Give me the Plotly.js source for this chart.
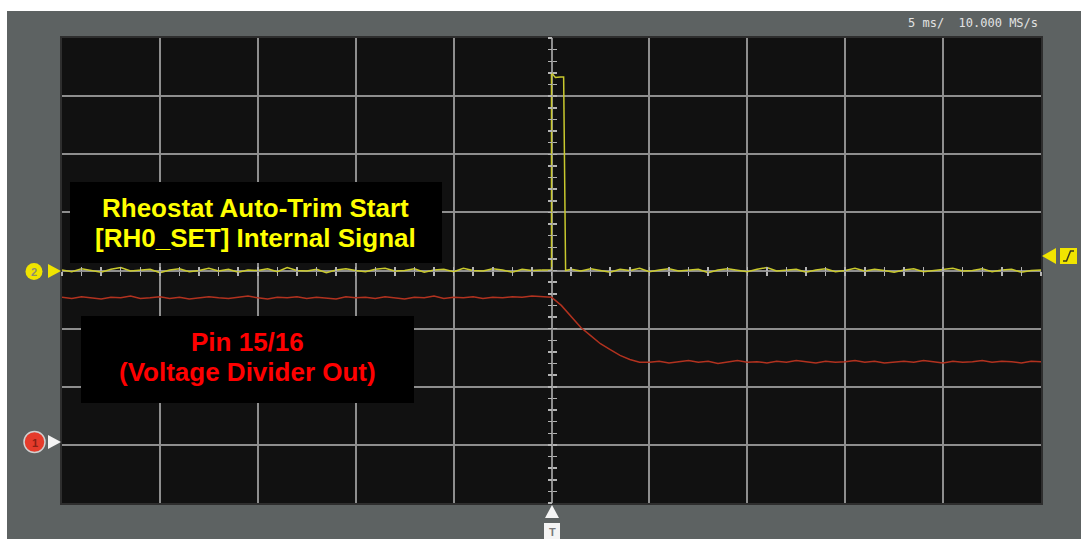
<!DOCTYPE html>
<html><head><meta charset="utf-8">
<script src="https://cdn.plot.ly/plotly-3.0.1.min.js"></script>
<style>
html,body{margin:0;padding:0;background:#ffffff;overflow:hidden}
#chart{position:absolute;left:7px;top:11px;width:1074px;height:528px}
</style>
</head><body><div id="chart"></div>
<script>
// ---- data (time in ms, amplitude in screen divisions) ----
const timeStart = -25;     // ms, left edge of record
const sampleStep = 0.5;    // ms between samples
const timebaseLabel = "5 ms/  10.000 MS/s";
const ch2Label = ["Rheostat Auto-Trim Start", "[RH0_SET] Internal Signal"];
const ch1Label = ["Pin 15/16", "(Voltage Divider Out)"];

// CH2 (yellow) before trigger: t = -25 ... -0.5 ms
const yellowPre = [0.01,-0.02,0.03,0.00,-0.03,0.02,0.05,-0.01,0.00,0.02,
  -0.04,0.01,0.03,-0.02,0.00,0.04,-0.01,0.02,-0.03,0.01,
  0.00,0.03,-0.02,0.05,0.00,-0.01,0.02,-0.04,0.01,0.03,
  0.00,-0.02,0.02,0.04,-0.01,0.00,0.03,-0.03,0.01,0.02,
  -0.02,0.04,0.00,-0.01,0.03,0.01,-0.03,0.02,0.00,0.01];
// CH2 pulse
const pulseTime = [-0.5, 0, 0, 0.08, 0.2, 0.45, 0.62, 0.72, 1.0];
const pulseValue = [0.01, 0.01, 3.40, 3.36, 3.32, 3.33, 3.33, 0.00, 0.02];
// CH2 after pulse: t = 1.0 ... 25 ms
const yellowPost = [0.02,-0.01,0.03,0.00,-0.03,0.02,0.00,0.04,-0.02,0.01,
  0.03,-0.01,0.00,0.02,-0.04,0.01,0.03,0.00,-0.02,0.02,
  0.05,-0.01,0.00,0.02,-0.03,0.01,0.03,-0.02,0.00,0.04,
  -0.01,0.02,0.00,-0.03,0.01,0.03,-0.02,0.00,0.02,0.04,
  -0.01,0.00,0.03,-0.02,0.01,0.02,-0.03,0.00,0.01];
const yellowPostStart = 1.0;

// CH1 (red): t = -25 ... -0.5 ms
const redPre = [-0.46,-0.48,-0.45,-0.47,-0.49,-0.46,-0.47,-0.44,-0.48,-0.47,
  -0.45,-0.48,-0.46,-0.49,-0.47,-0.45,-0.47,-0.48,-0.46,-0.44,
  -0.47,-0.49,-0.46,-0.47,-0.45,-0.48,-0.46,-0.47,-0.49,-0.45,
  -0.47,-0.46,-0.48,-0.45,-0.47,-0.49,-0.46,-0.47,-0.44,-0.48,
  -0.46,-0.47,-0.45,-0.48,-0.46,-0.47,-0.45,-0.46,-0.44,-0.45];
// t = 0 ... 4.5 ms
const redDecay = [-0.46,-0.60,-0.80,-0.98,-1.12,-1.26,-1.36,-1.46,-1.53,-1.58];
// t = 5 ... 25 ms
const redPost = [-1.58,-1.56,-1.59,-1.57,-1.55,-1.58,-1.56,-1.60,-1.57,-1.55,
  -1.58,-1.57,-1.59,-1.56,-1.58,-1.55,-1.57,-1.59,-1.56,-1.58,
  -1.57,-1.55,-1.58,-1.56,-1.59,-1.57,-1.56,-1.58,-1.55,-1.57,
  -1.59,-1.56,-1.58,-1.57,-1.55,-1.58,-1.56,-1.57,-1.59,-1.56,-1.57];
const redValues = redPre.concat(redDecay, redPost);

// ---- styling ----
const YEL = '#c9c92e', RED = '#b2321f', GRID = '#8e8e8e';
const PL = 62, PT = 38, PW = 979, PH = 465;
function px(x){ return (x - PL) / PW; }
function py(y){ return (PT + PH - y) / PH; }

const traces = [
  {type:'scatter', mode:'lines', x0:timeStart, dx:sampleStep, y:redValues,
   line:{color:RED, width:1.5}, hoverinfo:'skip', showlegend:false},
  {type:'scatter', mode:'lines', x0:timeStart, dx:sampleStep, y:yellowPre,
   line:{color:YEL, width:1.5}, hoverinfo:'skip', showlegend:false},
  {type:'scatter', mode:'lines', x:pulseTime, y:pulseValue,
   line:{color:YEL, width:1.5}, hoverinfo:'skip', showlegend:false},
  {type:'scatter', mode:'lines', x0:yellowPostStart, dx:sampleStep, y:yellowPost,
   line:{color:YEL, width:1.5}, hoverinfo:'skip', showlegend:false},
  // empty traces so the centre-axis tick rulers get drawn
  {type:'scatter', mode:'lines', x:[], y:[], xaxis:'x2', yaxis:'y', showlegend:false, hoverinfo:'skip'},
  {type:'scatter', mode:'lines', x:[], y:[], xaxis:'x3', yaxis:'y', showlegend:false, hoverinfo:'skip'},
  {type:'scatter', mode:'lines', x:[], y:[], xaxis:'x', yaxis:'y2', showlegend:false, hoverinfo:'skip'},
  {type:'scatter', mode:'lines', x:[], y:[], xaxis:'x', yaxis:'y3', showlegend:false, hoverinfo:'skip'}
];

const tickAxis = (extra) => Object.assign({
  showgrid:false, zeroline:false, showticklabels:false, showline:false,
  tickcolor:'#b4b4b4', tickwidth:1.5, ticklen:4, fixedrange:true
}, extra);

function tri(points, color){
  const p = points.map((q,i)=> (i?'L':'M') + px(q[0]) + ',' + py(q[1])).join(' ') + ' Z';
  return {type:'path', xref:'paper', yref:'paper', path:p, fillcolor:color, line:{width:0}};
}
function box(x0,x1,y0,y1,fill,line){
  return {type:'rect', xref:'paper', yref:'paper', x0:px(x0), x1:px(x1), y0:py(y1), y1:py(y0),
    fillcolor:fill, line: line || {width:0}, layer:'above'};
}
function circ(cx,cy,r,fill,line){
  return {type:'circle', xref:'paper', yref:'paper', x0:px(cx-r), x1:px(cx+r), y0:py(cy+r), y1:py(cy-r),
    fillcolor:fill, line: line || {width:0}};
}
function txt(t,x,y,size,color,opts){
  return Object.assign({xref:'paper', yref:'paper', x:px(x), y:py(y), text:t, showarrow:false,
    font:{family:'Liberation Sans, Arial, sans-serif', size:size, color:color}, xanchor:'center', yanchor:'middle'}, opts||{});
}
const boldFont = (size,color) => ({family:'Liberation Sans, Arial, sans-serif', size:size, color:color, weight:'bold'});

const shapes = [
  box(70,442,182,263,'#000000'),
  box(81,414,316,403,'#000000'),
  circ(34,271.5,8.5,'#f0e400'),
  tri([[48,264],[61,271],[48,278]], '#f0e400'),
  circ(34.5,442,10.5,'#e53b2b',{color:'#d0d0d0', width:1.5}),
  tri([[48,435],[61,442],[48,449]], '#f4f4f4'),
  tri([[1042,256],[1056,248],[1056,264]], '#f0e400'),
  box(1060,1077,248,264,'#f0e400'),
  {type:'path', xref:'paper', yref:'paper',
   path:'M'+px(1063)+','+py(261)+' L'+px(1066.5)+','+py(261)+' L'+px(1070.5)+','+py(251)+' L'+px(1074)+','+py(251),
   line:{color:'#3a3a1a', width:1.5}},
  tri([[545,518],[552,505],[559,518]], '#f4f4f4'),
  box(544,560,523,539,'#f4f4f4')
];

const annotations = [
  txt(ch2Label[0], 255, 208, 26, '#ffff00', {font:boldFont(26,'#ffff00')}),
  txt(ch2Label[1], 255, 238, 26, '#ffff00', {font:boldFont(26,'#ffff00')}),
  txt(ch1Label[0], 247.5, 342, 26, '#ff0000', {font:boldFont(26,'#ff0000')}),
  txt(ch1Label[1], 247.5, 372, 26, '#ff0000', {font:boldFont(26,'#ff0000')}),
  txt('2', 34, 272, 11, '#8d8d70', {font:boldFont(11,'#8d8d70')}),
  txt('1', 34.5, 443, 11, '#8a2014', {font:boldFont(11,'#8a2014')}),
  txt('T', 552, 531.5, 11, '#7a7a7a', {font:boldFont(11,'#7a7a7a')}),
  txt(timebaseLabel, 1040, 23, 12, '#e2e2e2', {xanchor:'right', font:{family:'DejaVu Sans Mono, monospace', size:12, color:'#e2e2e2'}})
];

const layout = {
  width:1074, height:528,
  margin:{l:55, r:40, t:27, b:36, pad:0},
  paper_bgcolor:'#5d6262', plot_bgcolor:'#111111',
  showlegend:false,
  xaxis:{range:[-25,25], tick0:0, dtick:5, showgrid:true, gridcolor:GRID, gridwidth:2,
    zeroline:false, showticklabels:false, ticks:'', showline:true, linecolor:'#2e2e2e', linewidth:2, mirror:true, fixedrange:true},
  yaxis:{range:[-4,4], tick0:0, dtick:1, showgrid:true, gridcolor:GRID, gridwidth:2,
    zeroline:false, showticklabels:false, ticks:'', showline:true, linecolor:'#2e2e2e', linewidth:2, mirror:true, fixedrange:true},
  xaxis2: tickAxis({overlaying:'x', anchor:'free', position:0.5, range:[-25,25], tick0:0, dtick:1, ticks:'outside'}),
  xaxis3: tickAxis({overlaying:'x', anchor:'free', position:0.5, range:[-25,25], tick0:0, dtick:1, ticks:'inside'}),
  yaxis2: tickAxis({overlaying:'y', anchor:'free', position:0.5, range:[-4,4], tick0:0, dtick:0.2, ticks:'outside'}),
  yaxis3: tickAxis({overlaying:'y', anchor:'free', position:0.5, range:[-4,4], tick0:0, dtick:0.2, ticks:'inside'}),
  shapes:shapes, annotations:annotations
};

Plotly.newPlot('chart', traces, layout, {staticPlot:true, displayModeBar:false});
</script>
</body></html>
